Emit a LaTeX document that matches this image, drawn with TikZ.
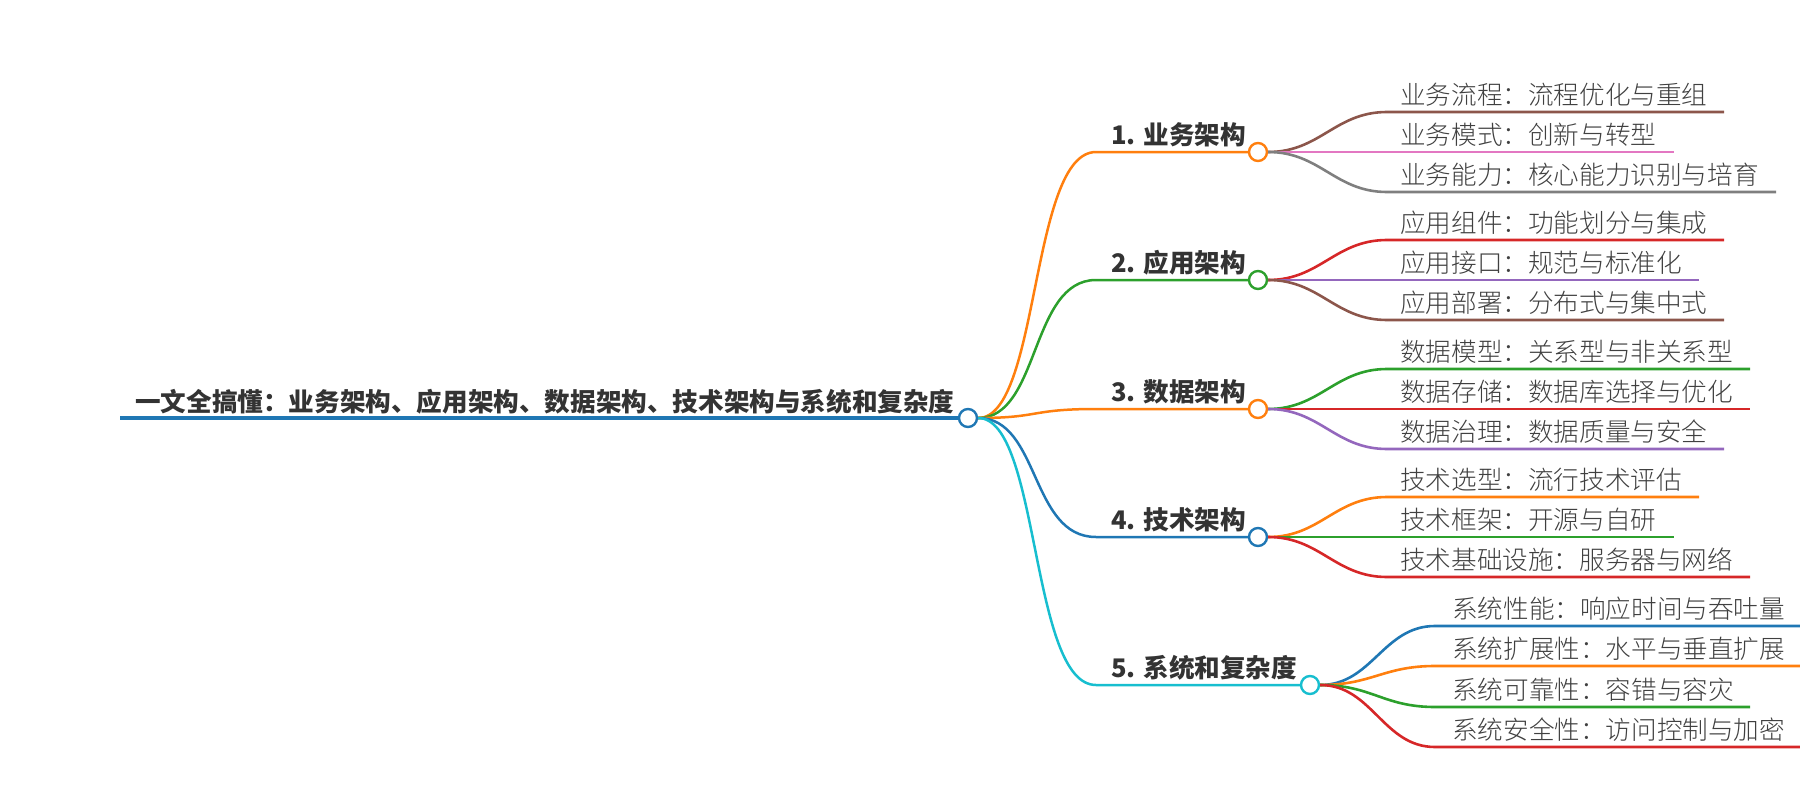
\documentclass[tikz,border=0pt]{standalone}
\usepackage{fontspec}
\setmainfont{Noto Sans CJK SC}
\newfontfamily\leaffont{Noto Sans CJK SC Light}
\definecolor{cblue}{HTML}{1F77B4}
\definecolor{corange}{HTML}{FF7F0E}
\definecolor{cgreen}{HTML}{2CA02C}
\definecolor{cred}{HTML}{D62728}
\definecolor{cpurple}{HTML}{9467BD}
\definecolor{cbrown}{HTML}{8C564B}
\definecolor{cpink}{HTML}{E377C2}
\definecolor{cgray}{HTML}{7F7F7F}
\definecolor{ccyan}{HTML}{17BECF}
\definecolor{tdark}{HTML}{333333}
\definecolor{tleaf}{HTML}{404040}
\tikzset{
  hub/.style={circle,minimum size=18pt,inner sep=0pt,line width=2.4pt,fill=white},
  roottext/.style={anchor=base west,inner sep=0pt,text=tdark,font=\fontsize{25.6}{30}\selectfont\bfseries},
  l1text/.style={anchor=base west,inner sep=0pt,text=tdark,font=\fontsize{25.6}{30}\selectfont\bfseries},
  leaftext/.style={anchor=base west,inner sep=0pt,text=tleaf,font=\leaffont\fontsize{25.6}{30}\selectfont},
  rootline/.style={line width=3.2pt},
  l1line/.style={line width=2.5pt},
  leafline/.style={line width=2.6pt},
}
\begin{document}
\begin{tikzpicture}[x=1pt,y=-1pt]
\useasboundingbox (0,0) rectangle (1800,800);
% root
\node[hub,draw=cblue] (r) at (968,418) {};
\node[roottext] (rt) at (135,411) {一文全搞懂：业务架构、应用架构、数据架构、技术架构与系统和复杂度};
\coordinate (rs) at (120,418);
\draw[rootline,cblue] (rs) -- (r.west);
% level-1 hubs
\node[hub,draw=corange] (h1) at (1258,152) {};
\node[hub,draw=cgreen] (h2) at (1258,280) {};
\node[hub,draw=corange] (h3) at (1258,409) {};
\node[hub,draw=cblue] (h4) at (1258,537) {};
\node[hub,draw=ccyan] (h5) at (1310,685) {};
\node[l1text] (t1) at (1111,144) {1. 业务架构};
\node[l1text] (t2) at (1111,272) {2. 应用架构};
\node[l1text] (t3) at (1111,401) {3. 数据架构};
\node[l1text] (t4) at (1111,529) {4. 技术架构};
\node[l1text] (t5) at (1111,677) {5. 系统和复杂度};
\coordinate (u1) at (1096,152);
\coordinate (u2) at (1096,280);
\coordinate (u3) at (1096,409);
\coordinate (u4) at (1096,537);
\coordinate (u5) at (1096,685);
\draw[l1line,corange] (r.east) .. controls (1040,418) and (1030,152) .. (u1) -- (h1.west);
\draw[l1line,cgreen]  (r.east) .. controls (1040,418) and (1030,280) .. (u2) -- (h2.west);
\draw[l1line,corange] (r.east) .. controls (1040,418) and (1030,409) .. (u3) -- (h3.west);
\draw[l1line,cblue]   (r.east) .. controls (1040,418) and (1030,537) .. (u4) -- (h4.west);
\draw[l1line,ccyan]   (r.east) .. controls (1040,418) and (1030,685) .. (u5) -- (h5.west);
% leaves group 1
\node[leaftext] (a1) at (1400,104) {业务流程：流程优化与重组};
\node[leaftext] (a2) at (1400,144) {业务模式：创新与转型};
\node[leaftext] (a3) at (1400,184) {业务能力：核心能力识别与培育};
\coordinate (a1s) at (1387,112); \coordinate (a1e) at (1724,112);
\coordinate (a2s) at (1387,152); \coordinate (a2e) at (1674,152);
\coordinate (a3s) at (1387,192); \coordinate (a3e) at (1776,192);
\draw[leafline,cbrown] (h1.east) .. controls +(52,0) and +(-52,0) .. (a1s) -- (a1e);
\draw[leafline,cpink]  (h1.east) .. controls +(52,0) and +(-52,0) .. (a2s) -- (a2e);
\draw[leafline,cgray]  (h1.east) .. controls +(52,0) and +(-52,0) .. (a3s) -- (a3e);
% leaves group 2
\node[leaftext] (b1) at (1400,232) {应用组件：功能划分与集成};
\node[leaftext] (b2) at (1400,272) {应用接口：规范与标准化};
\node[leaftext] (b3) at (1400,312) {应用部署：分布式与集中式};
\coordinate (b1s) at (1387,240); \coordinate (b1e) at (1724,240);
\coordinate (b2s) at (1387,280); \coordinate (b2e) at (1699,280);
\coordinate (b3s) at (1387,320); \coordinate (b3e) at (1724,320);
\draw[leafline,cred]    (h2.east) .. controls +(52,0) and +(-52,0) .. (b1s) -- (b1e);
\draw[leafline,cpurple] (h2.east) .. controls +(52,0) and +(-52,0) .. (b2s) -- (b2e);
\draw[leafline,cbrown]  (h2.east) .. controls +(52,0) and +(-52,0) .. (b3s) -- (b3e);
% leaves group 3
\node[leaftext] (c1) at (1400,361) {数据模型：关系型与非关系型};
\node[leaftext] (c2) at (1400,401) {数据存储：数据库选择与优化};
\node[leaftext] (c3) at (1400,441) {数据治理：数据质量与安全};
\coordinate (c1s) at (1387,369); \coordinate (c1e) at (1750,369);
\coordinate (c2s) at (1387,409); \coordinate (c2e) at (1750,409);
\coordinate (c3s) at (1387,449); \coordinate (c3e) at (1724,449);
\draw[leafline,cgreen]  (h3.east) .. controls +(52,0) and +(-52,0) .. (c1s) -- (c1e);
\draw[leafline,cred]    (h3.east) .. controls +(52,0) and +(-52,0) .. (c2s) -- (c2e);
\draw[leafline,cpurple] (h3.east) .. controls +(52,0) and +(-52,0) .. (c3s) -- (c3e);
% leaves group 4
\node[leaftext] (d1) at (1400,489) {技术选型：流行技术评估};
\node[leaftext] (d2) at (1400,529) {技术框架：开源与自研};
\node[leaftext] (d3) at (1400,569) {技术基础设施：服务器与网络};
\coordinate (d1s) at (1387,497); \coordinate (d1e) at (1699,497);
\coordinate (d2s) at (1387,537); \coordinate (d2e) at (1674,537);
\coordinate (d3s) at (1387,577); \coordinate (d3e) at (1750,577);
\draw[leafline,corange] (h4.east) .. controls +(52,0) and +(-52,0) .. (d1s) -- (d1e);
\draw[leafline,cgreen]  (h4.east) .. controls +(52,0) and +(-52,0) .. (d2s) -- (d2e);
\draw[leafline,cred]    (h4.east) .. controls +(52,0) and +(-52,0) .. (d3s) -- (d3e);
% leaves group 5
\node[leaftext] (e1) at (1452,618) {系统性能：响应时间与吞吐量};
\node[leaftext] (e2) at (1452,658) {系统扩展性：水平与垂直扩展};
\node[leaftext] (e3) at (1452,699) {系统可靠性：容错与容灾};
\node[leaftext] (e4) at (1452,739) {系统安全性：访问控制与加密};
\coordinate (e1s) at (1435,626); \coordinate (e1e) at (1800,626);
\coordinate (e2s) at (1435,666); \coordinate (e2e) at (1800,666);
\coordinate (e3s) at (1435,707); \coordinate (e3e) at (1750,707);
\coordinate (e4s) at (1435,747); \coordinate (e4e) at (1800,747);
\draw[leafline,cblue]   (h5.east) .. controls +(52,0) and +(-52,0) .. (e1s) -- (e1e);
\draw[leafline,corange] (h5.east) .. controls +(52,0) and +(-52,0) .. (e2s) -- (e2e);
\draw[leafline,cgreen]  (h5.east) .. controls +(52,0) and +(-52,0) .. (e3s) -- (e3e);
\draw[leafline,cred]    (h5.east) .. controls +(52,0) and +(-52,0) .. (e4s) -- (e4e);
\end{tikzpicture}
\end{document}
